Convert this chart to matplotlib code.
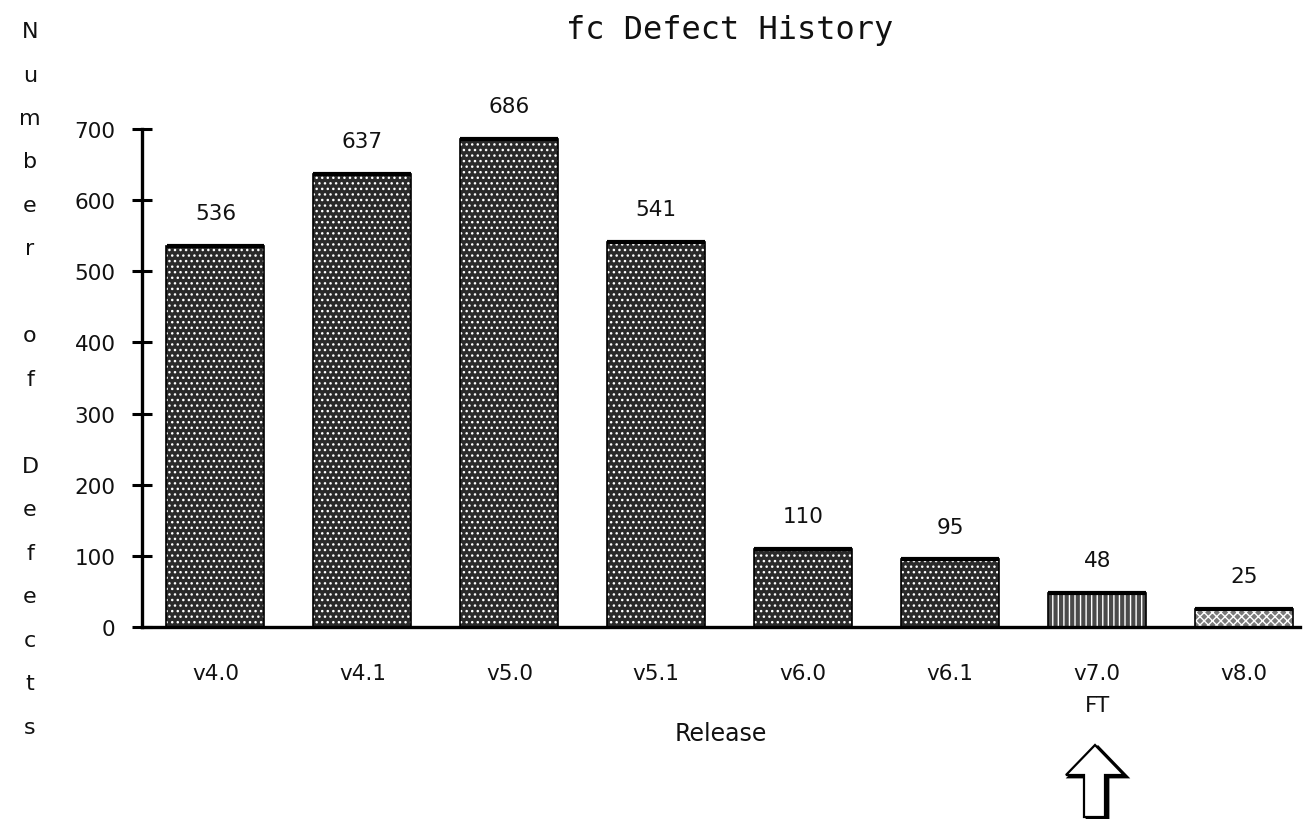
import matplotlib
matplotlib.use("Agg")
import matplotlib.pyplot as plt
from matplotlib.patches import Polygon
import numpy as np

# data
releases = ["v4.0", "v4.1", "v5.0", "v5.1", "v6.0", "v6.1", "v7.0", "v8.0"]
defects = [536, 637, 686, 541, 110, 95, 48, 25]
yticks = [0, 100, 200, 300, 400, 500, 600, 700]
ylabel_text = "Number of Defects"

W, H = 1303, 820
fig = plt.figure(figsize=(W / 100, H / 100), dpi=100)
ax = fig.add_axes([142 / W, 1 - 628 / H, 1158 / W, 498 / H])

x = np.arange(len(releases))
faces = ["#2a2a2a"] * 6 + ["#4a4a4a", "#7a7a7a"]
hatches = ["..."] * 6 + ["|||", "xxxx"]

# textured fill: dark face + white hatch, then black outline on top
for xi, val, fc, ht in zip(x, defects, faces, hatches):
    ax.bar(xi, val, width=0.667, color=fc, edgecolor="white", hatch=ht, linewidth=0)
ax.bar(x, defects, width=0.667, fill=False, edgecolor="black", linewidth=1.2)
ax.hlines(defects, x - 0.333, x + 0.333, colors="black", linewidth=3)

for xi, val in zip(x, defects):
    ax.text(xi, val + 32, str(val), ha="center", va="bottom", fontsize=15.5,
            family="DejaVu Sans", color="#111111")

ax.set_xlim(-0.5, 7.38)
ax.set_ylim(0, 700)
ax.set_yticks(yticks)
ax.set_yticklabels([str(t) for t in yticks], fontsize=15.5, color="#111111")
ax.tick_params(axis="y", direction="inout", length=14, width=2.2, pad=12)
ax.set_xticks(x)
labels = list(releases)
labels[6] = "v7.0\nFT"
ax.set_xticklabels(labels, fontsize=15.5, color="#111111", linespacing=1.75)
ax.tick_params(axis="x", length=0, pad=26)

for s in ["top", "right"]:
    ax.spines[s].set_visible(False)
ax.spines["left"].set_linewidth(2.4)
ax.spines["bottom"].set_linewidth(2.4)

ax.set_xlabel("Release", fontsize=17, labelpad=4, color="#111111")
fig.text(730 / W, 1 - 30 / H, "fc Defect History", ha="center", va="center",
         fontsize=23, family="DejaVu Sans Mono", color="#111111")

# stacked vertical axis title
row = 0
for ch in ylabel_text:
    if ch != " ":
        fig.text(30 / W, 1 - (32 + row * 43.5) / H, ch, ha="center", va="center",
                 fontsize=16, color="#111111")
    row += 1

# hollow arrow pointing at FT release
def px(pts, dx=0, dy=0):
    return [((a + dx) / W, 1 - (b + dy) / H) for a, b in pts]

arrow = [(1095, 746), (1066, 776), (1084, 776), (1084, 818),
         (1105, 818), (1105, 776), (1124, 776)]
fig.patches.append(Polygon(px(arrow, 3, 2), closed=True, transform=fig.transFigure,
                           facecolor="black", edgecolor="black", linewidth=2))
fig.patches.append(Polygon(px(arrow), closed=True, transform=fig.transFigure,
                           facecolor="white", edgecolor="black", linewidth=1.6))

fig.savefig("out.png", dpi=100)
